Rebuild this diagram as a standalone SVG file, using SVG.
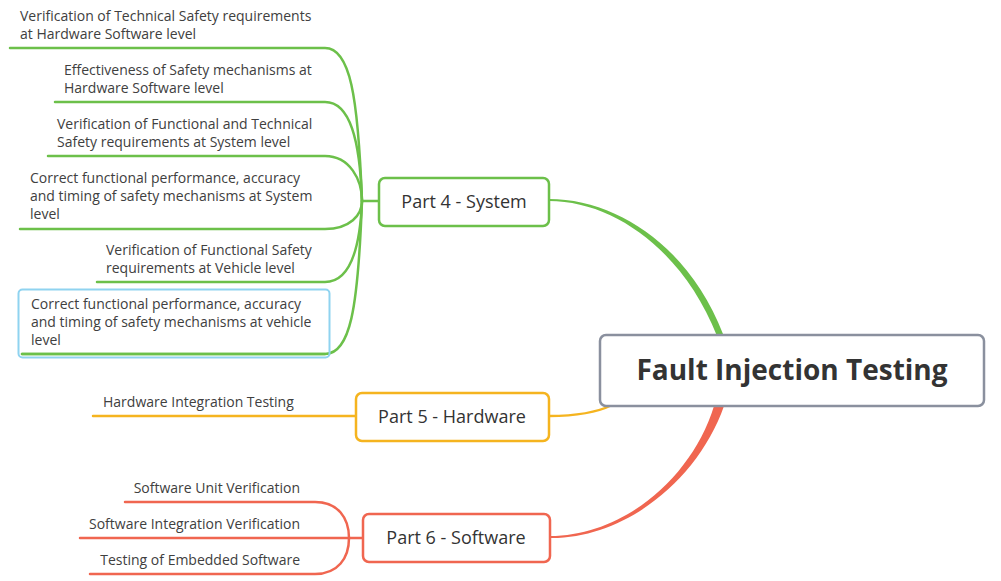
<svg xmlns="http://www.w3.org/2000/svg" width="1001" height="581" viewBox="0 0 1001 581">
<style>
.t{font-family:"Open Sans","Noto Sans","Liberation Sans",sans-serif;font-size:14px;fill:#404040}
.p{font-family:"Open Sans","Noto Sans","Liberation Sans",sans-serif;font-size:18px;fill:#333;text-anchor:middle}
.c{font-family:"Open Sans","Noto Sans","Liberation Sans",sans-serif;font-size:28px;font-weight:bold;fill:#333;text-anchor:middle}
.g{fill:none;stroke:#6cc04a;stroke-width:2.5;stroke-linecap:round}
.o{fill:none;stroke:#f5b41f;stroke-width:2.5;stroke-linecap:round}
.r{fill:none;stroke:#f06650;stroke-width:2.5;stroke-linecap:round}
.box{fill:#fff;stroke-width:2.5}
</style>
<rect width="1001" height="581" fill="#fff"/>
<g id="connectors">
<path d="M549,201 C615,201 684,252 717,336 L723,334 C690,248 618,199 549,199 Z" fill="#6cc04a"/>
<path class="o" d="M549,416 C578,416 598,412 612,405" stroke-width="3"/>
<path d="M724,406 C698,480 625,539 550,538 L550,536 C623,536 692,478 714,406 Z" fill="#f06650"/>
<path class="g" d="M10,48 H325 C350,48 358,95 362,201"/>
<path class="g" d="M55,102 H325 C350,102 360,140 362,201"/>
<path class="g" d="M48,156 H325 C350,156 362,180 362,201"/>
<path class="g" d="M20,229 H325 C350,229 362,215 362,201"/>
<path class="g" d="M97,282 H325 C350,282 360,250 362,201"/>
<path class="g" d="M22,354 H325 C350,354 358,310 362,201"/>
<path class="g" d="M362,201 H379"/>
<path class="o" d="M93,416 H356"/>
<path class="r" d="M125,502 H315 C338,502 349,518 349,538"/>
<path class="r" d="M80,538 H363"/>
<path class="r" d="M90,574 H315 C338,574 349,558 349,538"/>
</g>
<g id="root">
<rect class="box" x="600" y="335" width="384" height="71" rx="6" stroke="#8a909e" stroke-width="3"/>
<text class="c" x="792" y="380">Fault Injection Testing</text>
</g>
<g id="part4">
<rect class="box" x="379" y="178" width="170" height="48" rx="6" stroke="#6cc04a"/>
<text class="p" x="464" y="208">Part 4 - System</text>
</g>
<g id="part5">
<rect class="box" x="356" y="393" width="193" height="48" rx="6" stroke="#f5b41f"/>
<text class="p" x="452" y="423">Part 5 - Hardware</text>
</g>
<g id="part6">
<rect class="box" x="363" y="514" width="187" height="48" rx="6" stroke="#f06650"/>
<text class="p" x="456" y="544">Part 6 - Software</text>
</g>
<g id="s1"><text class="t" x="20" y="21">Verification of Technical Safety requirements</text><text class="t" x="20" y="39">at Hardware Software level</text></g>
<g id="s2"><text class="t" x="64" y="75">Effectiveness of Safety mechanisms at</text><text class="t" x="64" y="93">Hardware Software level</text></g>
<g id="s3"><text class="t" x="57" y="129">Verification of Functional and Technical</text><text class="t" x="57" y="147">Safety requirements at System level</text></g>
<g id="s4"><text class="t" x="30" y="183">Correct functional performance, accuracy</text><text class="t" x="30" y="201">and timing of safety mechanisms at System</text><text class="t" x="30" y="219">level</text></g>
<g id="s5"><text class="t" x="106" y="255">Verification of Functional Safety</text><text class="t" x="106" y="273">requirements at Vehicle level</text></g>
<g id="s6"><rect x="18.5" y="289.5" width="311" height="68" rx="4" fill="none" stroke="#8fd3f0" stroke-width="2"/><path class="g" d="M22,354 H325"/><text class="t" x="31" y="309">Correct functional performance, accuracy</text><text class="t" x="31" y="327">and timing of safety mechanisms at vehicle</text><text class="t" x="31" y="345">level</text></g>
<g id="h1"><text class="t" x="103" y="407">Hardware Integration Testing</text></g>
<g id="w1"><text class="t" x="300" y="493" text-anchor="end">Software Unit Verification</text></g>
<g id="w2"><text class="t" x="300" y="529" text-anchor="end">Software Integration Verification</text></g>
<g id="w3"><text class="t" x="300" y="565" text-anchor="end">Testing of Embedded Software</text></g>
</svg>
